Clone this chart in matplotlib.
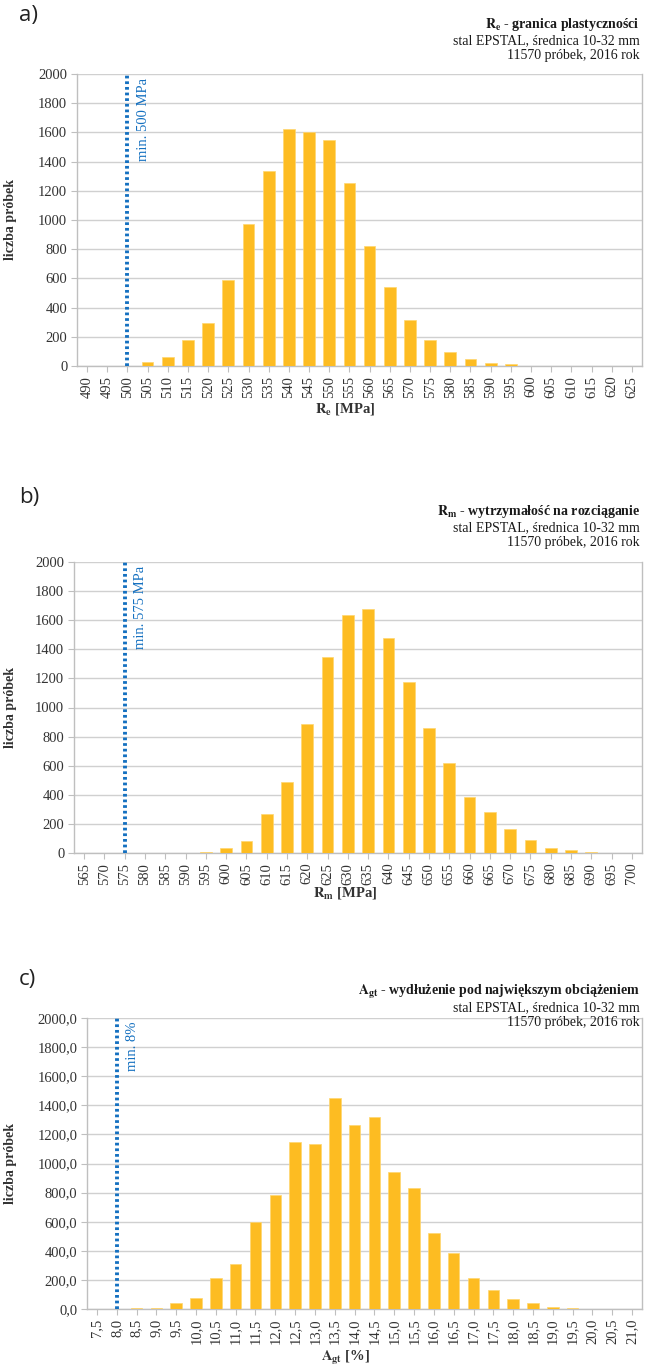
import matplotlib
matplotlib.use("Agg")
import matplotlib.pyplot as plt

# --- data ---
re_cats = [str(v) for v in range(490, 630, 5)]
re_counts = [0, 0, 0, 25, 65, 175, 295, 590, 975, 1335, 1625, 1605, 1550, 1255,
             825, 540, 315, 175, 95, 45, 22, 12, 3, 1, 0, 0, 0, 0]

rm_cats = [str(v) for v in range(565, 705, 5)]
rm_counts = [0, 0, 0, 0, 0, 0, 5, 35, 85, 270, 490, 885, 1345, 1635, 1675, 1475,
             1175, 860, 620, 385, 280, 165, 88, 34, 19, 6, 3, 0]

agt_cats = ["7,5", "8,0", "8,5", "9,0", "9,5", "10,0", "10,5", "11,0", "11,5", "12,0",
            "12,5", "13,0", "13,5", "14,0", "14,5", "15,0", "15,5", "16,0", "16,5",
            "17,0", "17,5", "18,0", "18,5", "19,0", "19,5", "20,0", "20,5", "21,0"]
agt_counts = [0, 0, 8, 10, 43, 75, 212, 310, 600, 785, 1150, 1135, 1450, 1265, 1320,
              945, 830, 525, 385, 215, 130, 70, 38, 15, 4, 2, 0, 0]

yticks = [0, 200, 400, 600, 800, 1000, 1200, 1400, 1600, 1800, 2000]

plt.rcParams['font.family'] = ['Liberation Serif', 'DejaVu Serif']
plt.rcParams['mathtext.fontset'] = 'stix'

BAR = '#FDBC22'
BLUE = '#1470C0'
GRID = '#D0D0D0'
TXT = '#333333'

W, H = 656, 1365
fig = plt.figure(figsize=(W / 100, H / 100), dpi=100)


def fx(px):
    return px / W


def fy(py):
    return 1 - py / H


panels = [
    dict(cats=re_cats, counts=re_counts, mi=2, mtxt='min. 500 MPa',
         box=(77, 74, 642, 366), title=r'$\mathbf{R_e}$' + ' - granica plastyczności',
         xlabel=r'$\mathbf{R_e}$' + ' [MPa]', letter='a)', ty=(28, 44, 59),
         ly=16, xly=409, dec=False),
    dict(cats=rm_cats, counts=rm_counts, mi=2, mtxt='min. 575 MPa',
         box=(74, 562, 642, 853), title=r'$\mathbf{R_m}$' + ' - wytrzymałość na rozciąganie',
         xlabel=r'$\mathbf{R_m}$' + ' [MPa]', letter='b)', ty=(515, 531, 546),
         ly=498, xly=893, dec=False),
    dict(cats=agt_cats, counts=agt_counts, mi=1, mtxt='min. 8%',
         box=(87, 1018, 642, 1309), title=r'$\mathbf{A_{gt}}$' + ' - wydłużenie pod największym obciążeniem',
         xlabel=r'$\mathbf{A_{gt}}$' + ' [%]', letter='c)', ty=(995, 1011, 1026),
         ly=980, xly=1358, dec=True),
]

for p in panels:
    l, t, r, b = p['box']
    ax = fig.add_axes([fx(l), fy(b), fx(r) - fx(l), fy(t) - fy(b)])
    x = list(range(len(p['cats'])))
    ax.bar(x, p['counts'], width=0.58, color=BAR, edgecolor='#FFD670', linewidth=0.5, zorder=3)
    ax.set_xlim(-0.5, len(x) - 0.5)
    ax.set_ylim(0, 2000)
    ax.set_yticks(yticks)
    if p['dec']:
        ax.set_yticklabels([f"{v},0" for v in yticks])
    ax.set_xticks(x)
    ax.set_xticklabels(p['cats'], rotation=90)
    ax.grid(axis='y', color=GRID, linewidth=1.0, zorder=0)
    ax.set_axisbelow(True)
    for s in ax.spines.values():
        s.set_color('#BFBFBF')
        s.set_linewidth(1.0)
    ax.spines['top'].set_visible(False)
    ax.tick_params(axis='both', labelsize=10.5, colors=TXT, length=4, width=0.8, pad=3)
    ax.tick_params(axis='both', color='#BFBFBF')

    mi = p['mi']
    ax.plot([mi, mi], [0, 2000], color=BLUE, linewidth=2.8,
            linestyle=(0, (0.7, 0.75)), zorder=4, clip_on=False)
    ax.text(mi + 0.8, 1975, p['mtxt'], rotation=90, ha='center', va='top',
            color=BLUE, fontsize=10.5, zorder=5)

    ax.set_ylabel('liczba próbek', fontweight='bold', fontsize=10, color=TXT)
    ax.yaxis.set_label_coords(-(l - 17) / (r - l), 0.5)

    fig.text(fx(345), fy(p['xly']), p['xlabel'], ha='center', va='center',
             fontsize=10.5, fontweight='bold', color=TXT)
    fig.text(fx(640), fy(p['ty'][0]), p['title'], ha='right', va='baseline',
             fontsize=10, fontweight='bold', color='#1A1A1A')
    fig.text(fx(640), fy(p['ty'][1]), 'stal EPSTAL, średnica 10-32 mm', ha='right',
             va='baseline', fontsize=10, color='#1A1A1A')
    fig.text(fx(640), fy(p['ty'][2]), '11570 próbek, 2016 rok', ha='right',
             va='baseline', fontsize=10, color='#1A1A1A')
    fig.text(fx(19), fy(p['ly']), p['letter'], ha='left', va='center', fontsize=16,
             color='#222222', family=['Open Sans', 'DejaVu Sans'])

fig.savefig('out.png', dpi=100)
